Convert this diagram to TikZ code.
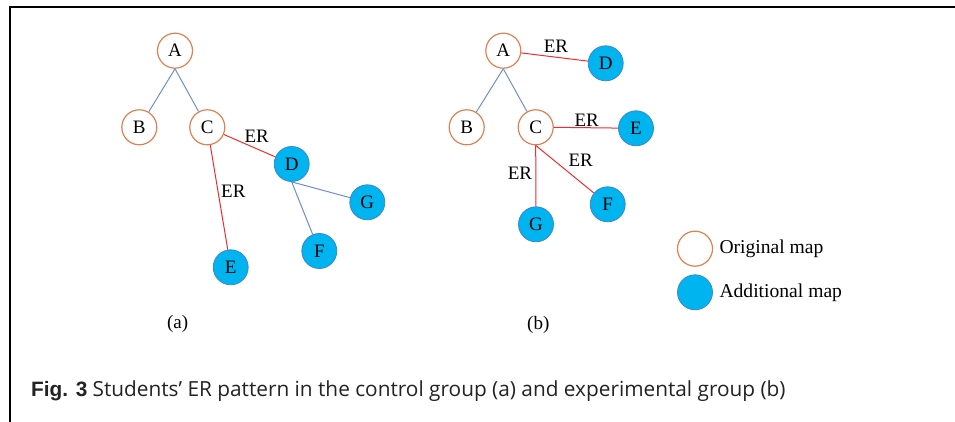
\documentclass[tikz,border=0pt]{standalone}
\usepackage{fontspec}
\setmainfont{Liberation Serif}
\newfontfamily\capfont{Open Sans}
\newfontfamily\capbold{Liberation Sans}
\begin{document}
\begin{tikzpicture}[x=1pt,y=-1pt,
  orig/.style={circle,draw=origc,line width=1.2pt,fill=white,minimum size=35pt,inner sep=0pt,font=\fontsize{19}{19}\selectfont},
  addl/.style={circle,draw=addb,line width=0.8pt,fill=addc,minimum size=35pt,inner sep=0pt,font=\fontsize{19}{19}\selectfont},
  tree/.style={draw=treec,line width=1pt},
  er/.style={draw=erc,line width=1pt},
  lbl/.style={font=\fontsize{19}{19}\selectfont,inner sep=0pt},
  leg/.style={font=\fontsize{19.6}{19.6}\selectfont,inner sep=0pt,anchor=west}]
\definecolor{origc}{RGB}{220,130,80}
\definecolor{addc}{RGB}{0,180,240}
\definecolor{addb}{RGB}{60,135,205}
\definecolor{treec}{RGB}{110,145,205}
\definecolor{erc}{RGB}{240,45,45}
\definecolor{capc}{RGB}{35,35,35}
\useasboundingbox (0,0) rectangle (955,422);
\fill[white] (0,0) rectangle (955,422);
\draw[line width=2pt] (10,422) -- (10,7) -- (955,7);
% panel (a)
\node[orig] (aA) at (175,50.7) {A};
\node[orig] (aB) at (139.3,127.3) {B};
\node[orig] (aC) at (207.3,127.3) {C};
\node[addl] (aD) at (291.7,164) {D};
\node[addl] (aG) at (367.3,202.3) {G};
\node[addl] (aF) at (319.3,251) {F};
\node[addl] (aE) at (230.7,267.3) {E};
\draw[tree] (aA.south) -- (aB);
\draw[tree] (aA.south) -- (aC);
\draw[er] (aC) -- (aD);
\draw[er] (aC) -- (aE);
\draw[tree] (aD.south) -- (aG);
\draw[tree] (aD.south) -- (aF);
\node[lbl] (aER1) at (256.7,136.7) {ER};
\node[lbl] (aER2) at (233.3,191.7) {ER};
\node[lbl] (alab) at (177.7,324) {(a)};
% panel (b)
\node[orig] (bA) at (503.3,50.7) {A};
\node[addl] (bD) at (605.7,63.3) {D};
\node[orig] (bB) at (466.7,127.3) {B};
\node[orig] (bC) at (535.7,127.3) {C};
\node[addl] (bE) at (636,128.3) {E};
\node[addl] (bF) at (607.7,204.3) {F};
\node[addl] (bG) at (536,224.3) {G};
\draw[tree] (bA.south) -- (bB);
\draw[tree] (bA.south) -- (bC);
\draw[er] (bA) -- (bD);
\draw[er] (bC.east) -- (bE);
\draw[er] (bC.south) -- (bF);
\draw[er] (bC.south) -- (bG);
\node[lbl] (bER1) at (556,46.7) {ER};
\node[lbl] (bER2) at (586.7,120) {ER};
\node[lbl] (bER3) at (580.7,160.7) {ER};
\node[lbl] (bER4) at (520,173.3) {ER};
\node[lbl] (blab) at (538.3,325) {(b)};
% legend
\node[orig] (lo) at (695,248.7) {};
\node[addl] (la) at (695,292.3) {};
\node[leg] (lot) at (719.3,248.7) {Original map};
\node[leg] (lat) at (719.3,292.3) {Additional map};
% caption
\node[anchor=base west,inner sep=0pt,text=capc,font=\fontsize{20.8}{20.8}\selectfont] (cap) at (31,396) {{\capbold\bfseries Fig. 3} \capfont Students’ ER pattern in the control group (a) and experimental group (b)};
\end{tikzpicture}
\end{document}
